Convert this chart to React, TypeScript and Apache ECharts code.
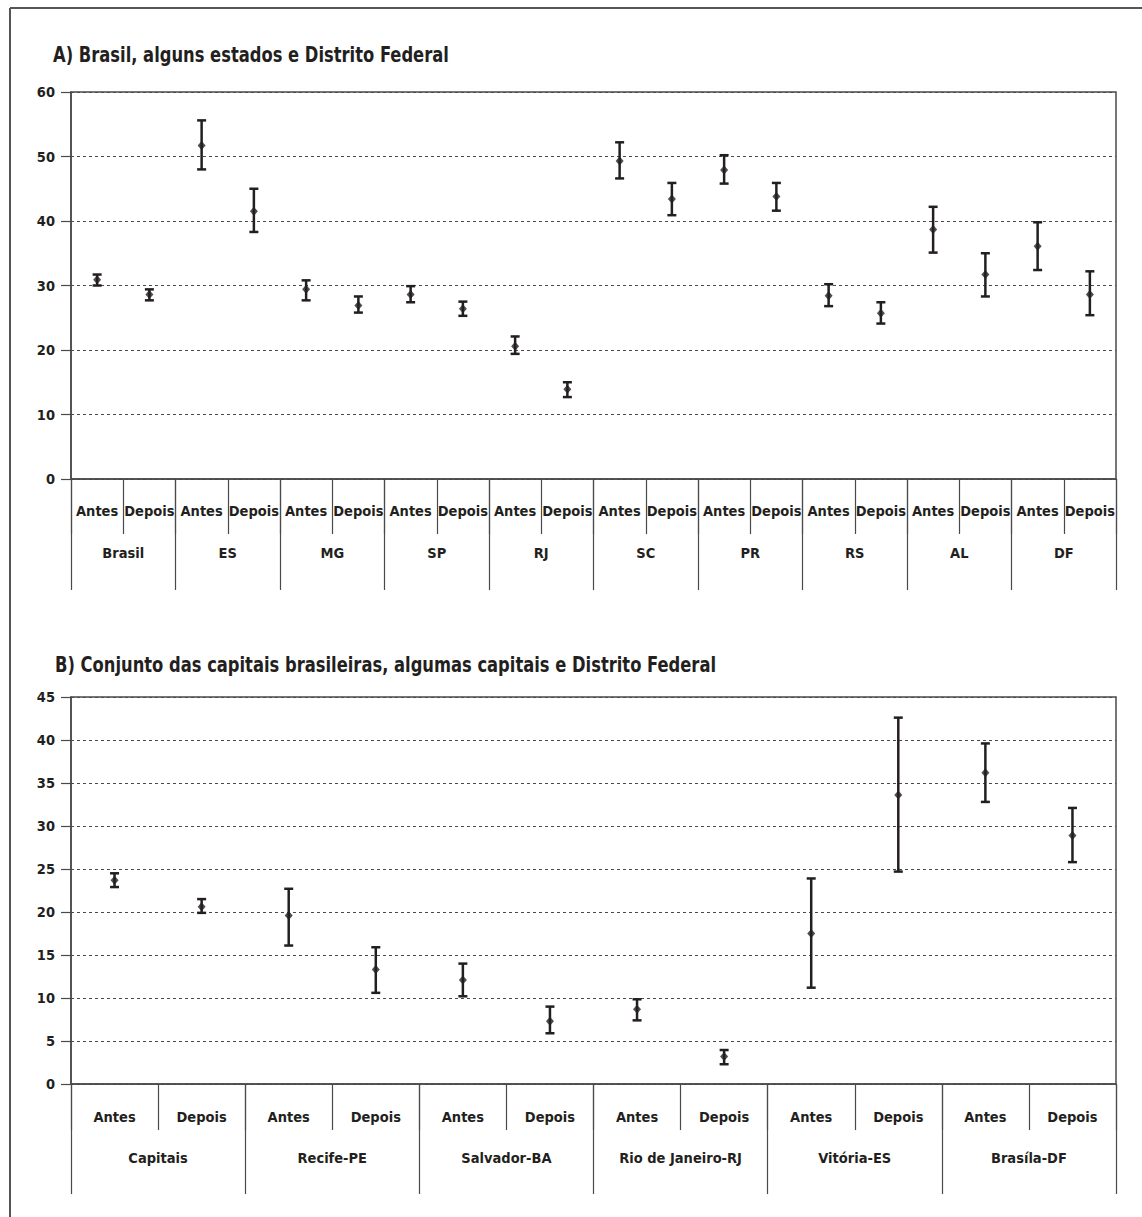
import React, { useEffect, useRef } from 'react';
import * as echarts from 'echarts';

const FONT = "'Liberation Sans Narrow', 'DejaVu Sans Condensed', 'Arial Narrow', sans-serif";
const INK = '#231f20';
const LINE = '#4a4a4a';

const titleA = 'A) Brasil, alguns estados e Distrito Federal';
const titleB = 'B) Conjunto das capitais brasileiras, algumas capitais e Distrito Federal';

const subLabels = ['Antes', 'Depois'];

const topGroups = ['Brasil', 'ES', 'MG', 'SP', 'RJ', 'SC', 'PR', 'RS', 'AL', 'DF'];
const topMean = [30.9, 28.6, 51.7, 41.5, 29.4, 26.9, 28.6, 26.4, 20.6, 13.9, 49.3, 43.4, 47.9, 43.8, 28.4, 25.7, 38.7, 31.7, 36.1, 28.6];
const topLow = [30.0, 27.7, 48.0, 38.3, 27.7, 25.8, 27.4, 25.3, 19.4, 12.7, 46.6, 40.9, 45.8, 41.6, 26.8, 24.1, 35.1, 28.3, 32.4, 25.4];
const topHigh = [31.7, 29.4, 55.6, 45.0, 30.8, 28.3, 29.9, 27.5, 22.1, 15.0, 52.2, 45.9, 50.2, 45.9, 30.2, 27.4, 42.2, 35.0, 39.8, 32.2];
const topYMax = 60;
const topYStep = 10;

const bottomGroups = ['Capitais', 'Recife-PE', 'Salvador-BA', 'Rio de Janeiro-RJ', 'Vitória-ES', 'Brasíla-DF'];
const bottomMean = [23.7, 20.6, 19.6, 13.3, 12.1, 7.3, 8.7, 3.2, 17.5, 33.6, 36.2, 28.9];
const bottomLow = [22.9, 19.9, 16.1, 10.6, 10.2, 5.9, 7.4, 2.3, 11.2, 24.7, 32.8, 25.8];
const bottomHigh = [24.5, 21.5, 22.7, 15.9, 14.0, 9.0, 9.85, 3.95, 23.9, 42.6, 39.6, 32.1];
const bottomYMax = 45;
const bottomYStep = 5;

const labelFont = { fontFamily: FONT, fontWeight: 'bold' as const, fontSize: 14.5, color: INK };

function subAxis(gridIndex: number, groups: string[], tickLen: number, margin: number) {
  return {
    type: 'category',
    gridIndex,
    position: 'bottom',
    data: groups.flatMap(() => subLabels),
    boundaryGap: true,
    axisLine: { show: true, onZero: false, lineStyle: { color: LINE, width: 1.5 } },
    axisTick: { show: true, length: tickLen, interval: 0, lineStyle: { color: LINE, width: 1.2 } },
    axisLabel: { ...labelFont, interval: 0, margin, hideOverlap: false },
    splitLine: { show: false },
  };
}

function groupAxis(gridIndex: number, groups: string[], tickLen: number, margin: number) {
  return {
    type: 'category',
    gridIndex,
    position: 'bottom',
    data: groups,
    boundaryGap: true,
    axisLine: { show: false, onZero: false },
    axisTick: { show: true, length: tickLen, interval: 0, lineStyle: { color: LINE, width: 1.2 } },
    axisLabel: { ...labelFont, interval: 0, margin, hideOverlap: false },
    splitLine: { show: false },
  };
}

function valueAxis(gridIndex: number, max: number, step: number) {
  return {
    type: 'value',
    gridIndex,
    position: 'left',
    min: 0,
    max,
    interval: step,
    axisLine: { show: true, lineStyle: { color: LINE, width: 1.5 } },
    axisTick: { show: true, length: 10, lineStyle: { color: LINE, width: 1.2 } },
    axisLabel: { ...labelFont, margin: 16 },
    splitLine: { show: true, lineStyle: { color: LINE, type: [3, 3], width: 1 } },
  };
}

function errorSeries(xAxisIndex: number, yAxisIndex: number, low: number[], high: number[]) {
  return {
    type: 'custom',
    xAxisIndex,
    yAxisIndex,
    silent: true,
    z: 3,
    encode: { x: 0, y: [1, 2] },
    data: low.map((l, i) => [i, l, high[i]]),
    renderItem: (_params: any, api: any) => {
      const x = api.value(0);
      const top = api.coord([x, api.value(2)]);
      const bot = api.coord([x, api.value(1)]);
      const w = 4.5;
      const style = { stroke: INK, lineWidth: 2.5 };
      return {
        type: 'group',
        children: [
          { type: 'line', shape: { x1: top[0], y1: top[1], x2: bot[0], y2: bot[1] }, style },
          { type: 'line', shape: { x1: top[0] - w, y1: top[1], x2: top[0] + w, y2: top[1] }, style },
          { type: 'line', shape: { x1: bot[0] - w, y1: bot[1], x2: bot[0] + w, y2: bot[1] }, style },
        ],
      };
    },
  };
}

function meanSeries(xAxisIndex: number, yAxisIndex: number, mean: number[]) {
  return {
    type: 'scatter',
    xAxisIndex,
    yAxisIndex,
    silent: true,
    z: 4,
    symbol: 'diamond',
    symbolSize: [8, 9],
    itemStyle: { color: INK },
    data: mean.map((m, i) => [i, m]),
  };
}

export default function App() {
  const ref = useRef<HTMLDivElement>(null);

  useEffect(() => {
    if (!ref.current) return;
    const chart = echarts.init(ref.current, undefined, { renderer: 'svg' });
    const option: any = {
      animation: false,
      backgroundColor: '#ffffff',
      graphic: [
        { type: 'line', shape: { x1: 10, y1: 8, x2: 10, y2: 1217 }, style: { stroke: '#555', lineWidth: 2 } },
        { type: 'line', shape: { x1: 10, y1: 8, x2: 1142, y2: 8 }, style: { stroke: '#555', lineWidth: 2 } },
        {
          type: 'text', x: 53, y: 55, scaleX: 0.865,
          style: { text: titleA, fontFamily: FONT, fontWeight: 'bold', fontSize: 21, fill: INK, verticalAlign: 'middle' },
        },
        {
          type: 'text', x: 55, y: 665, scaleX: 0.865,
          style: { text: titleB, fontFamily: FONT, fontWeight: 'bold', fontSize: 21, fill: INK, verticalAlign: 'middle' },
        },
      ],
      grid: [
        { left: 71, top: 92, width: 1045, height: 387, show: true, borderColor: LINE, borderWidth: 1.5 },
        { left: 71, top: 697, width: 1045, height: 387, show: true, borderColor: LINE, borderWidth: 1.5 },
      ],
      xAxis: [
        subAxis(0, topGroups, 55, 24),
        groupAxis(0, topGroups, 111, 66),
        subAxis(1, bottomGroups, 46, 25),
        groupAxis(1, bottomGroups, 110, 66),
      ],
      yAxis: [valueAxis(0, topYMax, topYStep), valueAxis(1, bottomYMax, bottomYStep)],
      series: [
        errorSeries(0, 0, topLow, topHigh),
        meanSeries(0, 0, topMean),
        errorSeries(2, 1, bottomLow, bottomHigh),
        meanSeries(2, 1, bottomMean),
      ],
    };
    chart.setOption(option);
    return () => chart.dispose();
  }, []);

  return (
    <div
      ref={ref}
      style={{ position: 'absolute', left: 0, top: 0, width: 1142, height: 1217 }}
    />
  );
}
